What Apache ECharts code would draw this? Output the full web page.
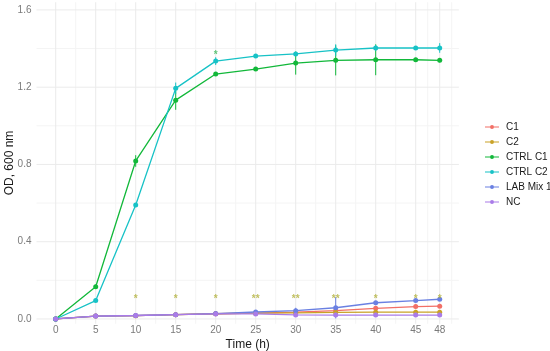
<!DOCTYPE html>
<html><head><meta charset="utf-8">
<script src="https://cdn.jsdelivr.net/npm/echarts@6/dist/echarts.min.js"></script>
<style>html,body{margin:0;padding:0;background:#fff}#c{width:550px;height:351px}</style>
</head><body><div id="c"></div>
<script>
const times = [0, 5, 10, 15, 20, 25, 30, 35, 40, 45, 48];
const c1 = [0, 0.015, 0.017, 0.022, 0.027, 0.030, 0.035, 0.043, 0.055, 0.064, 0.066];
const c2 = [0, 0.015, 0.017, 0.022, 0.027, 0.030, 0.032, 0.034, 0.035, 0.035, 0.035];
const ctrlC1 = [0, 0.167, 0.818, 1.133, 1.268, 1.294, 1.325, 1.339, 1.342, 1.342, 1.339];
const ctrlC2 = [0, 0.095, 0.590, 1.194, 1.335, 1.361, 1.372, 1.392, 1.403, 1.403, 1.403];
const labMix1 = [0, 0.015, 0.018, 0.022, 0.028, 0.036, 0.043, 0.058, 0.084, 0.095, 0.102];
const nc = [0, 0.015, 0.018, 0.022, 0.026, 0.026, 0.021, 0.020, 0.020, 0.020, 0.020];

const ctrlC1Err = [0, 0.01, 0.03, 0.05, 0.01, 0.01, 0.06, 0.078, 0.08, 0.01, 0.01];
const ctrlC2Err = [0, 0.005, 0.01, 0.03, 0.02, 0.01, 0.01, 0.03, 0.015, 0.01, 0.025];
const labMix1Err = [0, 0, 0, 0, 0, 0, 0.015, 0.055, 0, 0, 0];

const sigTimes = [10, 15, 20, 25, 30, 35, 40, 45, 48];
const sigMarks = ['*', '*', '*', '**', '**', '**', '*', '*', '*'];
const sigLevel = 0.10;
const sig2Times = [20];
const sig2Marks = ['*'];
const sig2Level = 1.365;

const xTicks = [0, 5, 10, 15, 20, 25, 30, 35, 40, 45, 48];
const xMinor = [2.5, 7.5, 12.5, 17.5, 22.5, 27.5, 32.5, 37.5, 42.5, 46.5, 49.5];
const yTicks = [0, 0.4, 0.8, 1.2, 1.6];
const yMinor = [0.2, 0.6, 1.0, 1.4];

const names = ['C1', 'C2', 'CTRL C1', 'CTRL C2', 'LAB Mix 1', 'NC'];
const colors = ['#F26F66', '#C9A227', '#12B83A', '#17C2C6', '#6A80E2', '#A97BE8'];
const values = [c1, c2, ctrlC1, ctrlC2, labMix1, nc];

const X0 = -2.4, X1 = 50.4, Y0 = -0.025, Y1 = 1.64;
const FONT = 'Liberation Sans, Arial, sans-serif';
const LEGEND_ICON = 'path://M0,3.5L14,3.5L14,4.5L0,4.5Z M9,4A2,2 0 1 1 5,4A2,2 0 1 1 9,4Z';

function gridSeries(vals, vertical, color, width) {
  return {
    type: 'custom', silent: true, z: 0,
    data: vals.map(v => [v]),
    renderItem: (params, api) => {
      const v = api.value(0);
      const a = vertical ? api.coord([v, Y0]) : api.coord([X0, v]);
      const b = vertical ? api.coord([v, Y1]) : api.coord([X1, v]);
      return { type: 'line', shape: { x1: a[0], y1: a[1], x2: b[0], y2: b[1] },
        style: { stroke: color, lineWidth: width } };
    }
  };
}

function errSeries(vals, errs, color) {
  const d = [];
  times.forEach((t, i) => { if (errs[i] > 0) d.push([t, vals[i] - errs[i], vals[i] + errs[i]]); });
  return {
    type: 'custom', silent: true, z: 2,
    data: d,
    renderItem: (params, api) => {
      const lo = api.coord([api.value(0), api.value(1)]);
      const hi = api.coord([api.value(0), api.value(2)]);
      return { type: 'line', shape: { x1: lo[0], y1: lo[1], x2: hi[0], y2: hi[1] },
        style: { stroke: color, lineWidth: 1 } };
    }
  };
}

function sigSeries(ts, marks, level, color) {
  return {
    type: 'scatter', silent: true, symbolSize: 0, z: 5,
    data: ts.map((t, i) => ({ value: [t, level], mark: marks[i] })),
    label: { show: true, position: 'inside', formatter: p => p.data.mark,
      color: color, fontSize: 10, fontFamily: FONT, fontWeight: 'bold' }
  };
}

const series = [
  gridSeries(xMinor, true, '#f4f4f4', 1),
  gridSeries(yMinor, false, '#f4f4f4', 1),
  gridSeries(xTicks, true, '#ebebeb', 1),
  gridSeries(yTicks, false, '#ebebeb', 1),
  errSeries(ctrlC1, ctrlC1Err, colors[2]),
  errSeries(ctrlC2, ctrlC2Err, colors[3]),
  errSeries(labMix1, labMix1Err, colors[4]),
];
names.forEach((n, i) => {
  series.push({
    name: n, type: 'line', z: 3,
    data: times.map((t, j) => [t, values[i][j]]),
    symbol: 'circle', symbolSize: 5, showSymbol: true,
    itemStyle: { color: colors[i] },
    lineStyle: { color: colors[i], width: 1.3 }
  });
});
series.push(sigSeries(sigTimes, sigMarks, sigLevel, '#B2B03A'));
series.push(sigSeries(sig2Times, sig2Marks, sig2Level, '#3DB85A'));

const chart = echarts.init(document.getElementById('c'), null, { renderer: 'canvas' });
chart.setOption({
  animation: false,
  textStyle: { fontFamily: FONT },
  grid: { left: 36.5, right: 91.1, top: 2.2, bottom: 27.2, containLabel: false, outerBoundsMode: 'none' },
  xAxis: {
    type: 'value', min: X0, max: X1,
    splitLine: { show: false }, axisLine: { show: false }, axisTick: { show: false },
    axisLabel: { customValues: xTicks, formatter: v => String(v), color: '#7a7a7a', fontSize: 10, margin: 1, fontFamily: FONT },
    name: 'Time (h)', nameLocation: 'middle', nameGap: 14.5, nameMoveOverlap: false,
    nameTextStyle: { fontSize: 12, color: '#1a1a1a', fontFamily: FONT }
  },
  yAxis: {
    type: 'value', min: Y0, max: Y1,
    splitLine: { show: false }, axisLine: { show: false }, axisTick: { show: false },
    axisLabel: { customValues: yTicks, formatter: v => v.toFixed(1), color: '#7a7a7a', fontSize: 10, margin: 5, fontFamily: FONT },
    name: 'OD, 600 nm', nameLocation: 'middle', nameGap: 21, nameRotate: 90, nameMoveOverlap: false,
    nameTextStyle: { fontSize: 12, color: '#1a1a1a', fontFamily: FONT }
  },
  legend: {
    data: names, orient: 'vertical', left: 485, top: 122, padding: 0,
    icon: LEGEND_ICON, itemWidth: 14, itemHeight: 8, itemGap: 5,
    textStyle: { fontSize: 10, color: '#1a1a1a', fontFamily: FONT, padding: [0, 0, 0, 2] }
  },
  series: series
});
</script></body></html>
